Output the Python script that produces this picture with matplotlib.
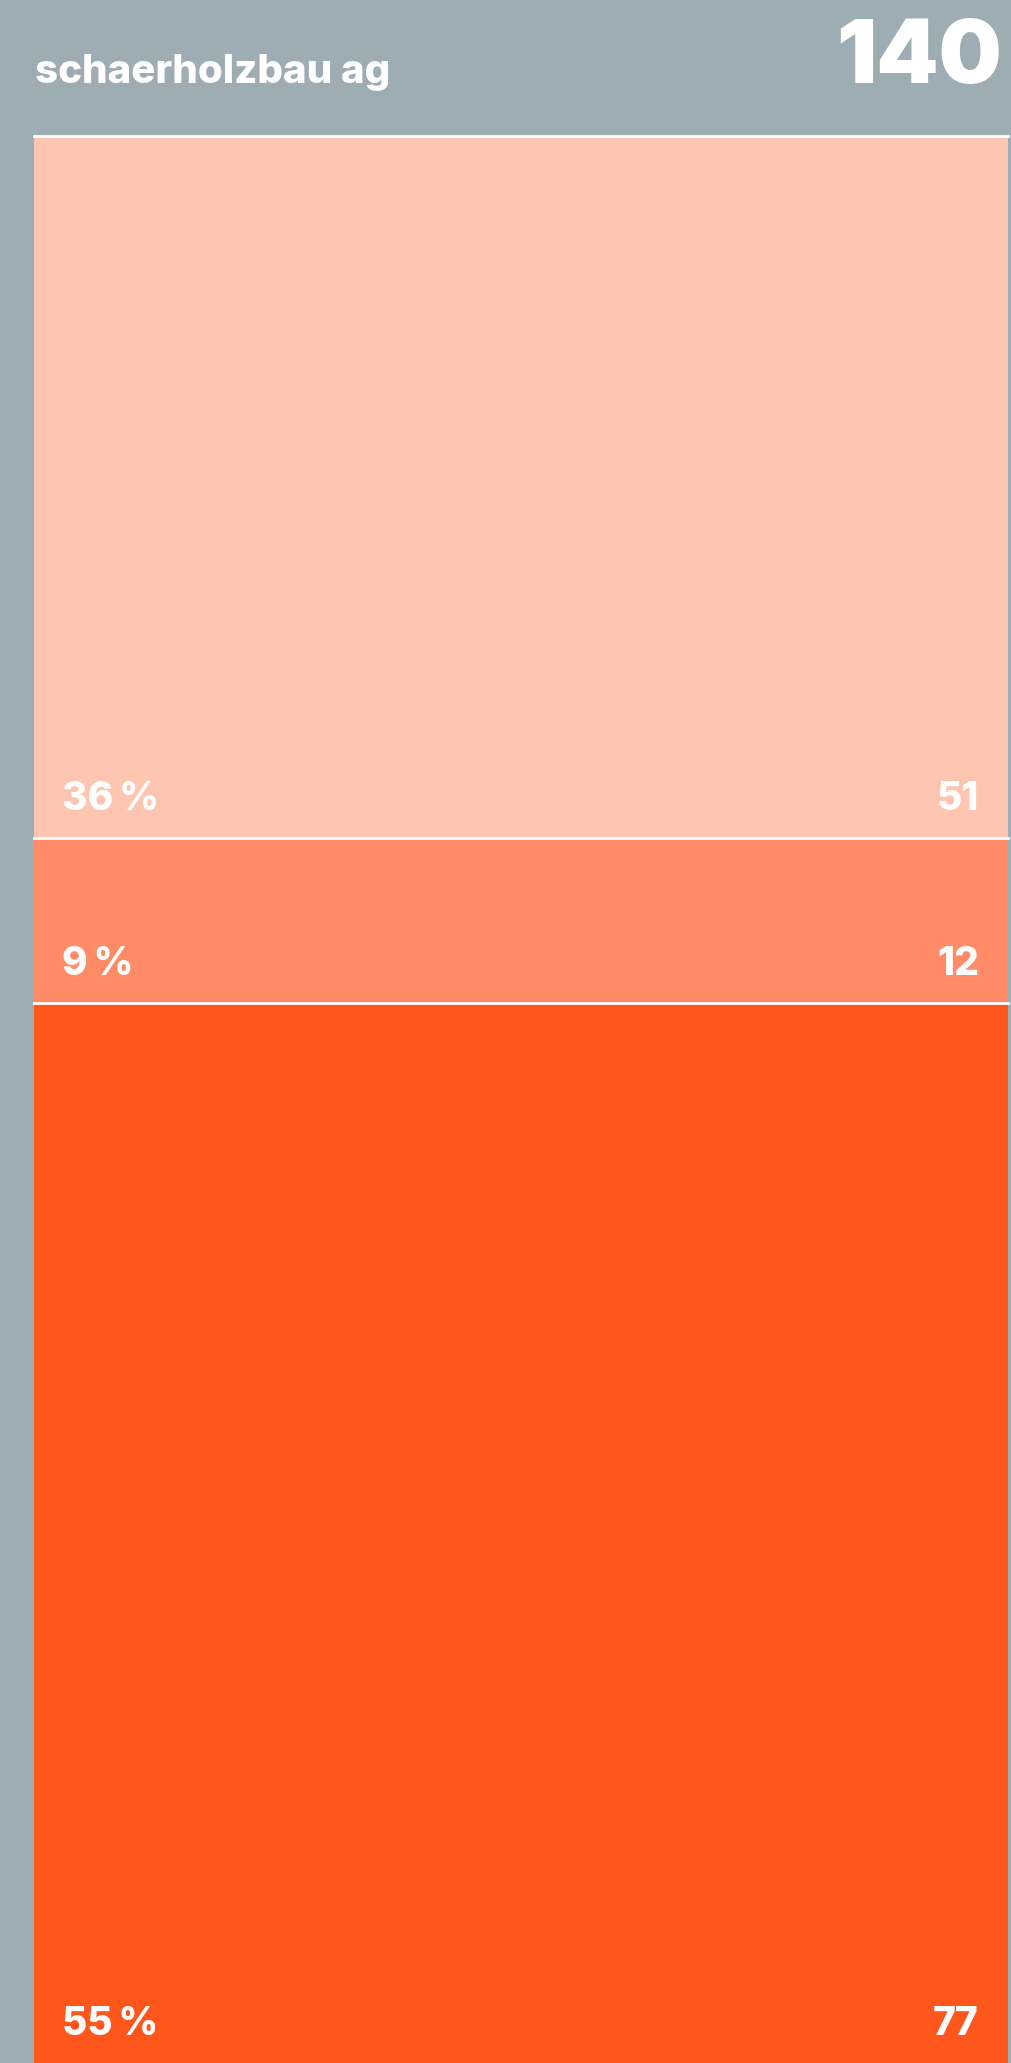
import matplotlib
matplotlib.use("Agg")
import matplotlib.pyplot as plt
import numpy as np

# Data
categories = ["Segment A", "Segment B", "Segment C"]
values = [51, 12, 77]
total_label = "140"
title = "schaerholzbau ag"
colors = ["#fec5b0", "#ff8c66", "#ff561b"]
bg = "#9eadb4"

W, H = 1011, 2063
fig = plt.figure(figsize=(W / 100, H / 100), dpi=100, facecolor=bg)

left_px, right_px, top_px = 34, 1008, 136
ax = fig.add_axes([left_px / W, 0, (right_px - left_px) / W, (H - top_px) / H])
ax.set_facecolor(bg)
total = sum(values)
bottoms = np.concatenate([[0], np.cumsum(values)[:-1]])
ax.bar([0] * len(values), values, bottom=bottoms, width=1.0, color=colors,
       edgecolor="none", align="center")
ax.set_xlim(-0.5, 0.5)
ax.set_ylim(total, 0)
ax.axis("off")

# white separators
for b in bottoms:
    ax.axhline(b, color="white", lw=2.0, clip_on=False, zorder=3)

font = ["Inter", "Liberation Sans", "DejaVu Sans"]
for v, b in zip(values, bottoms):
    seg_bottom = b + v
    pct = f"{round(v / total * 100):d}\u2009%"
    ax.annotate(pct, xy=(-0.5, seg_bottom), xytext=(20, 20), textcoords="offset points",
                ha="left", va="baseline", color="white", fontsize=28,
                fontweight="heavy", family=font, zorder=4)
    ax.annotate(str(v), xy=(0.5, seg_bottom), xytext=(-21, 20), textcoords="offset points",
                ha="right", va="baseline", color="white", fontsize=28,
                fontweight="heavy", family=font, zorder=4)

fig.text(35 / W, 1 - 83 / H, title, ha="left", va="baseline", color="white",
         fontsize=29, fontweight="heavy", family=font)
fig.text(1002 / W, 1 - 83 / H, total_label, ha="right", va="baseline", color="white",
         fontsize=64, fontweight="black", family=font)

fig.savefig("out.png", dpi=100, facecolor=bg)
